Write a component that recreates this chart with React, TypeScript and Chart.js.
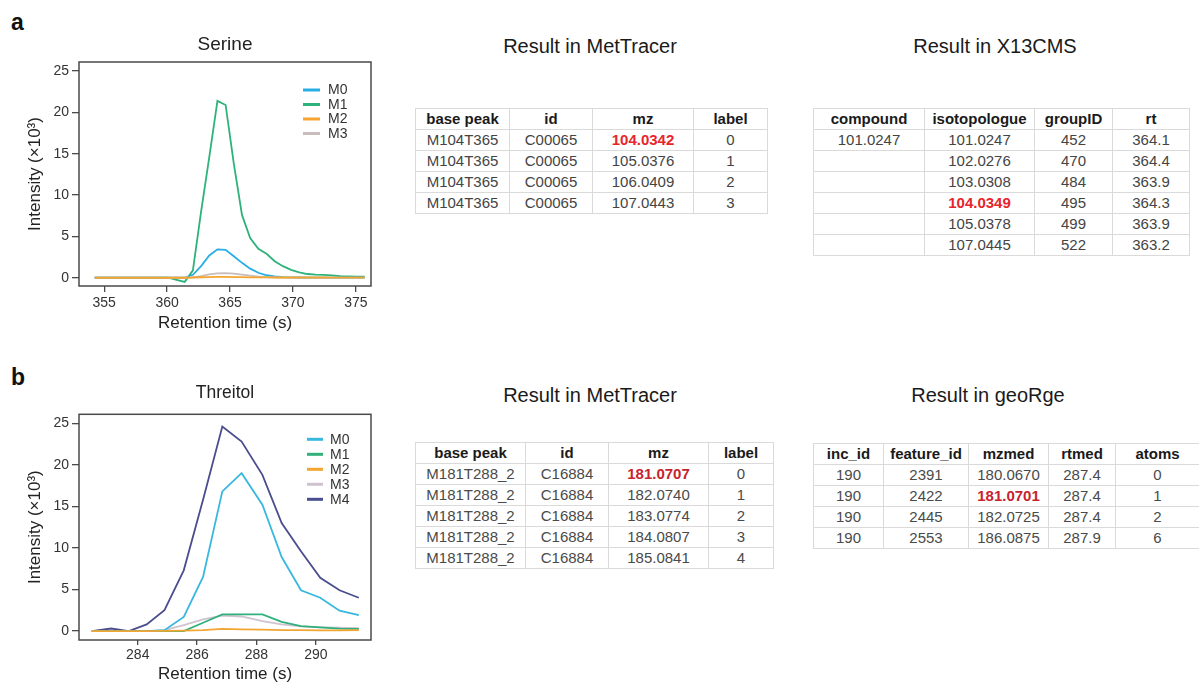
import React, { useEffect, useRef } from "react";
import { Chart, registerables } from "chart.js";

Chart.register(...registerables);

const FONT = "'Liberation Sans', Arial, Helvetica, sans-serif";

// ---------- Panel a: Serine ----------
const serineTimes = [354.25, 354.9, 355.55, 356.2, 356.85, 357.5, 358.15, 358.8, 359.45, 360.1, 360.75, 361.4, 362.05, 362.7, 363.35, 364.0, 364.65, 365.3, 365.95, 366.6, 367.25, 367.9, 368.55, 369.2, 369.85, 370.5, 371.15, 371.8, 372.45, 373.1, 373.75, 374.4, 375.05, 375.7];
const serineM0 = [0, 0, 0, 0, 0, 0, 0, 0, 0, 0, 0, 0, 0.35, 1.4, 2.7, 3.43, 3.38, 2.6, 1.8, 1.1, 0.6, 0.3, 0.15, 0.08, 0.05, 0.03, 0.02, 0.02, 0.02, 0.02, 0.02, 0.02, 0.02, 0.02];
const serineM1 = [0, 0, 0, 0, 0, 0, 0, 0, 0, 0, -0.25, -0.5, 0.9, 8.0, 14.6, 21.4, 20.9, 13.8, 7.6, 4.8, 3.5, 2.9, 2.0, 1.4, 0.95, 0.65, 0.45, 0.38, 0.35, 0.28, 0.2, 0.15, 0.12, 0.12];
const serineM2 = [0, 0, 0, 0, 0, 0, 0, 0, 0, 0, 0, 0, 0.03, 0.06, 0.08, 0.1, 0.1, 0.08, 0.07, 0.05, 0.05, 0.04, 0.03, 0.03, 0.03, 0.03, 0.03, 0.03, 0.03, 0.02, 0.02, 0.02, 0.02, 0.02];
const serineM3 = [0, 0, 0, 0, 0, 0, 0, 0, 0, 0, 0, 0, 0.05, 0.2, 0.4, 0.52, 0.55, 0.5, 0.38, 0.25, 0.14, 0.08, 0.04, 0.02, 0.02, 0.02, 0.02, 0.02, 0.02, 0.02, 0.02, 0.02, 0.02, 0.02];
const serineXTicks = [355, 360, 365, 370, 375];

// ---------- Panel b: Threitol ----------
const threitolTimes = [282.45, 283.1, 283.7, 284.3, 284.9, 285.55, 286.2, 286.85, 287.5, 288.2, 288.85, 289.5, 290.15, 290.8, 291.45];
const threitolM0 = [0, 0, 0, 0, 0.1, 1.7, 6.5, 16.8, 19.0, 15.2, 8.9, 4.9, 4.0, 2.45, 1.9];
const threitolM1 = [0, 0, 0, 0, 0, 0, 1.0, 2.0, 2.0, 2.0, 1.1, 0.6, 0.45, 0.3, 0.25];
const threitolM2 = [0, 0, 0, 0, 0.02, 0.05, 0.12, 0.25, 0.2, 0.18, 0.12, 0.1, 0.08, 0.08, 0.1];
const threitolM3 = [0, 0, 0, 0, 0.1, 0.7, 1.4, 1.85, 1.75, 1.2, 0.8, 0.55, 0.45, 0.4, 0.35];
const threitolM4 = [0, 0.3, 0, 0.8, 2.5, 7.3, 15.8, 24.6, 22.8, 18.8, 13.0, 9.6, 6.4, 4.9, 4.0];
const threitolXTicks = [284, 286, 288, 290];

const intensityTicks = [0, 5, 10, 15, 20, 25];
const isoLabels = ["M0", "M1", "M2", "M3", "M4"];
const colorsA = ["#27aee6", "#2db37a", "#f5a52f", "#c8bcbc"];
const colorsB = ["#39b8df", "#31b07c", "#f3a532", "#cfc3cf", "#4a4d8e"];
const drawOrderA = [2, 3, 0, 1];
const drawOrderB = [1, 2, 0, 3, 4];

// ---------- Tables ----------
const metTracerAHeader = ["base peak", "id", "mz", "label"];
const metTracerARows = [
  ["M104T365", "C00065", "104.0342", "0"],
  ["M104T365", "C00065", "105.0376", "1"],
  ["M104T365", "C00065", "106.0409", "2"],
  ["M104T365", "C00065", "107.0443", "3"],
];
const x13Header = ["compound", "isotopologue", "groupID", "rt"];
const x13Rows = [
  ["101.0247", "101.0247", "452", "364.1"],
  ["", "102.0276", "470", "364.4"],
  ["", "103.0308", "484", "363.9"],
  ["", "104.0349", "495", "364.3"],
  ["", "105.0378", "499", "363.9"],
  ["", "107.0445", "522", "363.2"],
];
const metTracerBHeader = ["base peak", "id", "mz", "label"];
const metTracerBRows = [
  ["M181T288_2", "C16884", "181.0707", "0"],
  ["M181T288_2", "C16884", "182.0740", "1"],
  ["M181T288_2", "C16884", "183.0774", "2"],
  ["M181T288_2", "C16884", "184.0807", "3"],
  ["M181T288_2", "C16884", "185.0841", "4"],
];
const geoRgeHeader = ["inc_id", "feature_id", "mzmed", "rtmed", "atoms"];
const geoRgeRows = [
  ["190", "2391", "180.0670", "287.4", "0"],
  ["190", "2422", "181.0701", "287.4", "1"],
  ["190", "2445", "182.0725", "287.4", "2"],
  ["190", "2553", "186.0875", "287.9", "6"],
];

const frameLegendPlugin = {
  id: "frameLegend",
  afterDatasetsDraw(chart: any, _args: any, opts: any) {
    const { ctx, chartArea } = chart;
    const { left, top, right, bottom } = chartArea;
    ctx.save();
    ctx.strokeStyle = "#4a4a4a";
    ctx.lineWidth = 1.5;
    ctx.strokeRect(left, top, right - left, bottom - top);
    // title centred over the plotting frame
    ctx.fillStyle = "#222";
    ctx.font = `${opts.titleSize}px ${FONT}`;
    ctx.textAlign = "center";
    ctx.textBaseline = "middle";
    ctx.fillText(opts.title, (left + right) / 2, top - opts.titleOffset);
    // legend inside the frame
    chart.data.datasets.forEach((ds: any, i: number) => {
      const y = top + opts.y0 + i * opts.dy;
      ctx.strokeStyle = ds.borderColor;
      ctx.lineWidth = 3;
      ctx.beginPath();
      ctx.moveTo(right - opts.lineFrom, y);
      ctx.lineTo(right - opts.lineTo, y);
      ctx.stroke();
      ctx.fillStyle = "#333";
      ctx.font = `14px ${FONT}`;
      ctx.textBaseline = "middle";
      ctx.textAlign = "left";
      ctx.fillText(ds.label, right - opts.textFrom, y + 0.5);
    });
    ctx.restore();
  },
};

type ChartProps = {
  title: string;
  titleSize: number;
  titleOffset: number;
  times: number[];
  series: number[][];
  colors: string[];
  order: number[];
  xMin: number;
  xMax: number;
  yMin: number;
  yMax: number;
  xTicks: number[];
  width: number;
  height: number;
  padTop: number;
  xAxisHeight: number;
  padBottom: number;
  tickLen: number;
  tickPad: number;
  legend: { y0: number; dy: number; lineFrom: number; lineTo: number; textFrom: number };
};

function IsoChart(p: ChartProps) {
  const ref = useRef<HTMLCanvasElement>(null);
  useEffect(() => {
    if (!ref.current) return;
    const datasets = p.series.map((vals, i) => ({
      label: isoLabels[i],
      data: vals.map((v, j) => ({ x: p.times[j], y: v })),
      borderColor: p.colors[i],
      backgroundColor: p.colors[i],
      borderWidth: 1.8,
      pointRadius: 0,
      tension: 0,
      fill: false,
      order: p.order[i],
    }));
    const chart = new Chart(ref.current, {
      type: "line",
      data: { datasets },
      plugins: [frameLegendPlugin],
      options: {
        animation: false,
        responsive: false,
        devicePixelRatio: 1,
        layout: { padding: { left: 0, right: 19, top: p.padTop, bottom: p.padBottom } },
        plugins: {
          legend: { display: false },
          tooltip: { enabled: false },
          title: { display: false },
          frameLegend: { ...p.legend, title: p.title, titleSize: p.titleSize, titleOffset: p.titleOffset },
        } as any,
        scales: {
          x: {
            type: "linear",
            min: p.xMin,
            max: p.xMax,
            afterBuildTicks: (scale: any) => {
              scale.ticks = p.xTicks.map((v) => ({ value: v }));
            },
            afterFit: (scale: any) => {
              scale.height = p.xAxisHeight;
            },
            ticks: {
              color: "#333",
              font: { family: FONT, size: 14 },
              padding: p.tickPad,
              maxRotation: 0,
              autoSkip: false,
            },
            grid: {
              display: true,
              drawOnChartArea: false,
              drawTicks: true,
              tickLength: p.tickLen,
              color: "#4a4a4a",
              lineWidth: 1.3,
            },
            border: { display: false },
            title: {
              display: true,
              text: "Retention time (s)",
              color: "#222",
              font: { family: FONT, size: 17 },
              padding: { top: 0, bottom: 0 },
            },
          },
          y: {
            type: "linear",
            min: p.yMin,
            max: p.yMax,
            afterBuildTicks: (scale: any) => {
              scale.ticks = intensityTicks.map((v) => ({ value: v }));
            },
            afterFit: (scale: any) => {
              scale.width = 79;
            },
            ticks: {
              color: "#333",
              font: { family: FONT, size: 14 },
              padding: 3,
            },
            grid: {
              display: true,
              drawOnChartArea: false,
              drawTicks: true,
              tickLength: 7,
              color: "#4a4a4a",
              lineWidth: 1.3,
            },
            border: { display: false },
            title: {
              display: true,
              text: "Intensity (×10³)",
              color: "#222",
              font: { family: FONT, size: 17 },
              padding: { top: 24.8, bottom: 0 },
            },
          },
        },
      } as any,
    });
    return () => chart.destroy();
  }, []);
  return <canvas ref={ref} width={p.width} height={p.height} style={{ width: p.width, height: p.height, display: "block" }} />;
}

type TableProps = {
  left: number;
  top: number;
  widths: number[];
  header: string[];
  rows: string[][];
  red: [number, number];
  redColor: string;
  textColor: string;
};

function DataTable(t: TableProps) {
  const cell: React.CSSProperties = {
    border: "1px solid #dadada",
    padding: 0,
    height: 20,
    lineHeight: "20px",
    textAlign: "center",
    whiteSpace: "nowrap",
    overflow: "hidden",
  };
  return (
    <table
      style={{
        position: "absolute",
        left: t.left,
        top: t.top,
        borderCollapse: "collapse",
        tableLayout: "fixed",
        width: t.widths.reduce((a, b) => a + b, 0),
        fontFamily: FONT,
        fontSize: 15,
        color: t.textColor,
      }}
    >
      <colgroup>
        {t.widths.map((w, i) => (
          <col key={i} style={{ width: w }} />
        ))}
      </colgroup>
      <thead>
        <tr>
          {t.header.map((h, i) => (
            <th key={i} style={{ ...cell, fontWeight: "bold", color: "#1a1a1a" }}>
              {h}
            </th>
          ))}
        </tr>
      </thead>
      <tbody>
        {t.rows.map((r, ri) => (
          <tr key={ri}>
            {r.map((c, ci) => {
              const isRed = ri === t.red[0] && ci === t.red[1];
              return (
                <td key={ci} style={{ ...cell, color: isRed ? t.redColor : undefined, fontWeight: isRed ? "bold" : "normal" }}>
                  {c}
                </td>
              );
            })}
          </tr>
        ))}
      </tbody>
    </table>
  );
}

function Heading({ text, cx, cy }: { text: string; cx: number; cy: number }) {
  return (
    <div
      style={{
        position: "absolute",
        left: cx - 150,
        top: cy - 12,
        width: 300,
        textAlign: "center",
        fontFamily: FONT,
        fontSize: 20,
        lineHeight: "24px",
        color: "#1a1a1a",
      }}
    >
      {text}
    </div>
  );
}

function PanelLabel({ text, left, top }: { text: string; left: number; top: number }) {
  return (
    <div
      style={{
        position: "absolute",
        left,
        top,
        fontFamily: FONT,
        fontWeight: "bold",
        fontSize: 23,
        lineHeight: "23px",
        color: "#111",
      }}
    >
      {text}
    </div>
  );
}

export default function App() {
  return (
    <div style={{ position: "absolute", left: 0, top: 0, width: 1199, height: 685, background: "#fff", overflow: "hidden" }}>
      <PanelLabel text="a" left={11} top={10.5} />
      <PanelLabel text="b" left={11} top={365.5} />

      <div style={{ position: "absolute", left: 0, top: 25 }}>
        <IsoChart
          title="Serine"
          titleSize={19}
          titleOffset={17}
          times={serineTimes}
          series={[serineM0, serineM1, serineM2, serineM3]}
          colors={colorsA}
          order={drawOrderA}
          xMin={353}
          xMax={376.2}
          yMin={-1}
          yMax={26.1}
          xTicks={serineXTicks}
          width={390}
          height={320}
          padTop={37}
          xAxisHeight={47.5}
          padBottom={11.5}
          tickLen={6}
          tickPad={2.5}
          legend={{ y0: 28, dy: 14.5, lineFrom: 68, lineTo: 51, textFrom: 43 }}
        />
      </div>

      <div style={{ position: "absolute", left: 0, top: 370 }}>
        <IsoChart
          title="Threitol"
          titleSize={17.5}
          titleOffset={21}
          times={threitolTimes}
          series={[threitolM0, threitolM1, threitolM2, threitolM3, threitolM4]}
          colors={colorsB}
          order={drawOrderB}
          xMin={282.02}
          xMax={291.86}
          yMin={-1.08}
          yMax={26.08}
          xTicks={threitolXTicks}
          width={390}
          height={315}
          padTop={44.3}
          xAxisHeight={45}
          padBottom={0}
          tickLen={5}
          tickPad={2}
          legend={{ y0: 25, dy: 15, lineFrom: 64, lineTo: 48, textFrom: 41 }}
        />
      </div>

      <Heading text="Result in MetTracer" cx={590} cy={46} />
      <Heading text="Result in X13CMS" cx={995} cy={46} />
      <Heading text="Result in MetTracer" cx={590} cy={395} />
      <Heading text="Result in geoRge" cx={988} cy={395} />

      <DataTable left={415} top={108} widths={[94, 83, 101, 74]} header={metTracerAHeader} rows={metTracerARows} red={[0, 2]} redColor="#e8242b" textColor="#444" />
      <DataTable left={813} top={108} widths={[111, 110, 78, 77]} header={x13Header} rows={x13Rows} red={[3, 1]} redColor="#e8242b" textColor="#444" />
      <DataTable left={415} top={442} widths={[110, 83, 100, 65]} header={metTracerBHeader} rows={metTracerBRows} red={[0, 2]} redColor="#c8232e" textColor="#4a4a4a" />
      <DataTable left={813} top={443} widths={[70, 85, 80, 67, 84]} header={geoRgeHeader} rows={geoRgeRows} red={[1, 2]} redColor="#c8232e" textColor="#4a4a4a" />
    </div>
  );
}
